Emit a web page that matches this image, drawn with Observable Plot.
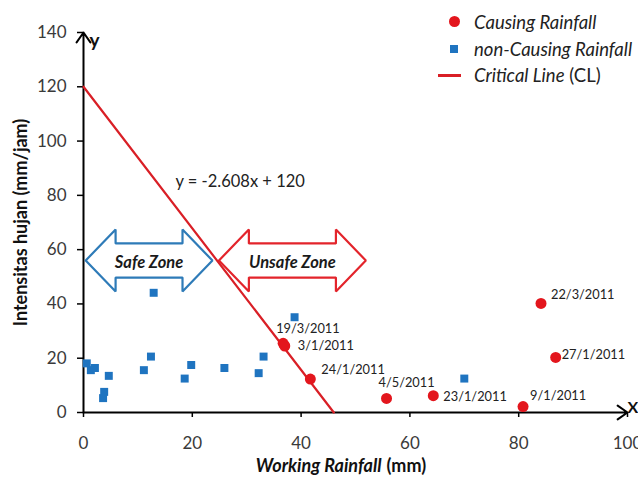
<!DOCTYPE html>
<html>
<head>
<meta charset="utf-8">
<script src="https://cdn.jsdelivr.net/npm/d3@7"></script>
<script src="https://cdn.jsdelivr.net/npm/@observablehq/plot@0.6"></script>
<style>
  body { margin: 0; background: #fff; font-family: Lato, "Open Sans", sans-serif; }
  #wrap { position: relative; width: 638px; height: 482px; overflow: hidden; }
  #legend { position: absolute; left: 0; top: 0; width: 638px; height: 90px; pointer-events: none; }
  .lg-item { position: absolute; left: 474px; font-size: 18.5px; line-height: 22px; color: #222; white-space: nowrap; }
  .sym { position: absolute; }
</style>
</head>
<body>
<div id="wrap">
  <div id="chart"></div>
  <div id="legend"></div>
</div>
<script>
// ---- data ----
const causingX = [36.7, 37.0, 41.7, 55.7, 64.3, 80.8, 84.1, 86.8];
const causingY = [25.5, 24.5, 12.3, 5.2, 6.2, 2.2, 40.2, 20.3];
const causingDates = ["19/3/2011", "3/1/2011", "24/1/2011", "4/5/2011", "23/1/2011", "9/1/2011", "22/3/2011", "27/1/2011"];
const nonCausingX = [0.6, 1.35, 2.1, 3.8, 3.6, 4.65, 11.1, 12.4, 12.9, 18.6, 19.8, 25.9, 32.2, 33.1, 38.8, 70.0];
const nonCausingY = [18.1, 15.6, 16.4, 7.6, 5.3, 13.5, 15.6, 20.6, 44.1, 12.5, 17.5, 16.4, 14.5, 20.6, 35.1, 12.5];
const clSlope = -2.608;
const clIntercept = 120;
const xTicks = [0, 20, 40, 60, 80, 100];
const yTicks = [0, 20, 40, 60, 80, 100, 120, 140];
const zoneLabels = ["Safe Zone", "Unsafe Zone"];
const zoneStart = [0.4, 24.9];
const zoneEnd = [23.7, 51.9];
const zoneCenterY = 56;
const legendLabels = ["Causing Rainfall", "non-Causing Rainfall", "Critical Line"];

// ---- styles / layout (not data) ----
const RED = "#e3161d";
const LINE_RED = "#d91f26";
const BLUE = "#1f74c0";
const ZONE_BLUE = "#2e7bb8";
const ZONE_RED = "#e3242b";
const FONT = "Lato, 'Open Sans', sans-serif";
const labelOffsets = [[-7, -14], [13, 0], [11, -9], [-8, -15], [10, 1], [7, -11], [10, -8], [6, -3]];
const headLen = 5.5, shaftHalf = 6.3, headHalf = 11.4;

const causing = causingX.map((x, i) => ({x, y: causingY[i], label: causingDates[i]}));
const nonCausing = nonCausingX.map((x, i) => ({x, y: nonCausingY[i]}));
const clEndX = -clIntercept / clSlope;
const critical = [{x: 0, y: clIntercept}, {x: clEndX, y: 0}];
const zoneColors = [ZONE_BLUE, ZONE_RED];

const zonePts = [];
zoneLabels.forEach((name, i) => {
  const x0 = zoneStart[i], x1 = zoneEnd[i], yc = zoneCenterY;
  const pts = [
    [x0, yc], [x0 + headLen, yc + headHalf], [x0 + headLen, yc + shaftHalf],
    [x1 - headLen, yc + shaftHalf], [x1 - headLen, yc + headHalf], [x1, yc],
    [x1 - headLen, yc - headHalf], [x1 - headLen, yc - shaftHalf],
    [x0 + headLen, yc - shaftHalf], [x0 + headLen, yc - headHalf], [x0, yc]
  ];
  pts.forEach(([x, y]) => zonePts.push({x, y, zone: name, color: zoneColors[i]}));
});
const zoneText = zoneLabels.map((name, i) => ({x: (zoneStart[i] + zoneEnd[i]) / 2, y: zoneCenterY, label: name}));

const labelMarks = causing.map((d, i) => Plot.text([d], {
  x: "x", y: "y", text: "label", textAnchor: "start",
  dx: labelOffsets[i][0], dy: labelOffsets[i][1],
  fontSize: 12.8, fill: "#222", fontFamily: FONT
}));

const chart = Plot.plot({
  width: 638,
  height: 482,
  marginLeft: 83,
  marginRight: 11,
  marginTop: 32,
  marginBottom: 70,
  style: {fontFamily: FONT, background: "#fff", overflow: "visible"},
  x: {domain: [0, 100]},
  y: {domain: [0, 140]},
  marks: [
    Plot.axisY({ticks: yTicks, tickSize: 6, tickPadding: 11, fontSize: 17, color: "#3a3a3a", stroke: "#000", strokeWidth: 1.5, label: null}),
    Plot.axisX({ticks: xTicks, tickSize: 5, tickPadding: 19, fontSize: 17, color: "#3a3a3a", stroke: "#000", strokeWidth: 1.5, label: null}),
    Plot.arrow([{x1: 0, y1: 0, x2: 0, y2: 140}], {x1: "x1", y1: "y1", x2: "x2", y2: "y2", stroke: "#000", strokeWidth: 2, headLength: 9, headAngle: 70}),
    Plot.arrow([{x1: 0, y1: 0, x2: 100, y2: 0}], {x1: "x1", y1: "y1", x2: "x2", y2: "y2", stroke: "#000", strokeWidth: 2, headLength: 9, headAngle: 70}),
    Plot.text(["y"], {frameAnchor: "top-left", dx: 6, dy: 1, fontSize: 19, fontWeight: "bold", fill: "#111", textAnchor: "start"}),
    Plot.text(["X"], {frameAnchor: "bottom-right", dx: 0, dy: 0, fontSize: 16, fontWeight: "bold", fill: "#111", textAnchor: "start"}),
    Plot.text(["Intensitas hujan (mm/jam)"], {frameAnchor: "left", dx: -62, rotate: -90, textAnchor: "middle", fontSize: 18, fontWeight: "bold", fill: "#111"}),
    Plot.text(["Working Rainfall"], {frameAnchor: "bottom", dx: 26, dy: 59, textAnchor: "end", fontSize: 18, fontWeight: "bold", fontStyle: "italic", fill: "#111"}),
    Plot.text(["(mm)"], {frameAnchor: "bottom", dx: 31, dy: 59, textAnchor: "start", fontSize: 18, fontWeight: "bold", fill: "#111"}),
    Plot.line(zonePts, {x: "x", y: "y", z: "zone", stroke: "color", strokeWidth: 2.2, strokeLinejoin: "miter"}),
    Plot.text(zoneText, {x: "x", y: "y", text: "label", fontSize: 16.5, fontWeight: "bold", fontStyle: "italic", fill: "#1a1a1a", dy: 2}),
    Plot.line(critical, {x: "x", y: "y", stroke: LINE_RED, strokeWidth: 2.2}),
    Plot.text([`y = ${clSlope}x + ${clIntercept}`], {x: 28.8, y: 84.9, fontSize: 16.5, fill: "#222"}),
    Plot.dot(nonCausing, {x: "x", y: "y", symbol: "square", r: 4.5, fill: BLUE, stroke: "none"}),
    Plot.dot(causing, {x: "x", y: "y", r: 5.5, fill: RED, stroke: "none"}),
    ...labelMarks
  ]
});
document.getElementById("chart").appendChild(chart);

// ---- legend (HTML overlay) ----
const legend = document.getElementById("legend");
const legendRows = [21.7, 49, 75];
legend.innerHTML = `
  <div class="sym" style="left:${454 - 5.5}px;top:${legendRows[0] - 5.5}px;width:11px;height:11px;border-radius:50%;background:${RED}"></div>
  <div class="sym" style="left:${454 - 4}px;top:${legendRows[1] - 4}px;width:8px;height:8px;background:${BLUE}"></div>
  <div class="sym" style="left:438px;top:${legendRows[2] - 1.5}px;width:23px;height:3px;background:${LINE_RED}"></div>
  <div class="lg-item" style="top:${legendRows[0] - 11}px"><i>${legendLabels[0]}</i></div>
  <div class="lg-item" style="top:${legendRows[1] - 11}px"><i>${legendLabels[1]}</i></div>
  <div class="lg-item" style="top:${legendRows[2] - 11}px"><i>${legendLabels[2]}</i> (CL)</div>
`;
</script>
</body>
</html>
